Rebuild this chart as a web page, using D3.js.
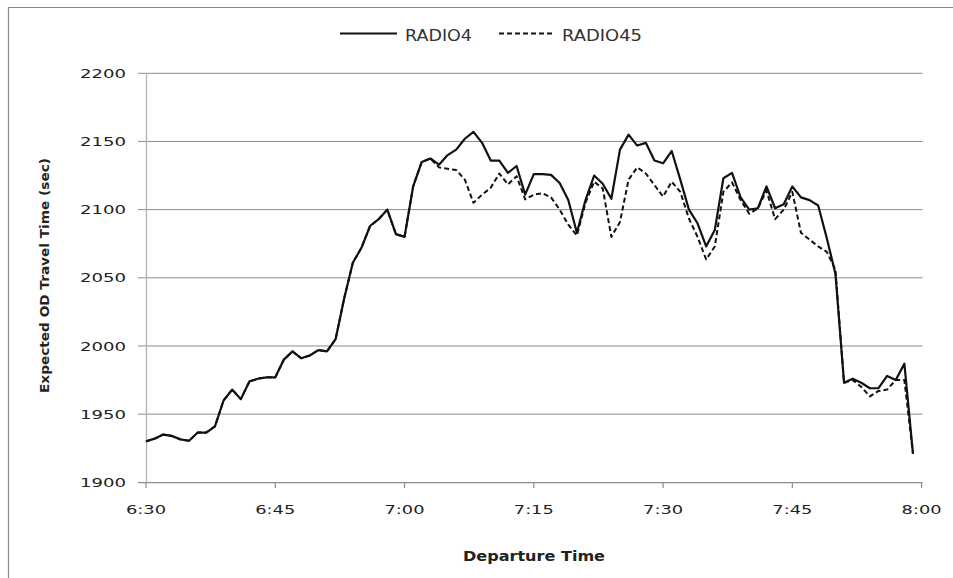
<!DOCTYPE html>
<html>
<head>
<meta charset="utf-8">
<script src="https://cdn.jsdelivr.net/npm/d3@7"></script>
<style>
  html, body { margin: 0; padding: 0; background: #fff; }
  svg { display: block; }
  text { font-family: "DejaVu Sans", Verdana, sans-serif; fill: #222; }
</style>
</head>
<body>
<svg id="chart" width="953" height="578"></svg>
<script>
// ---- data (one value per minute, 6:30 .. 7:59) ----
const startTime = "06:30";
const endTime = "08:00";
const radio4 = [
  1930, 1932, 1935, 1934, 1931.5, 1930.5, 1936.5, 1936.5, 1941, 1960,
  1968, 1961, 1974, 1976, 1977, 1977, 1990, 1996, 1991, 1993,
  1997, 1996, 2005, 2035, 2061, 2072, 2088, 2093, 2100, 2082,
  2080, 2117, 2135, 2137.5, 2133, 2140, 2144, 2152, 2157, 2149,
  2136, 2136, 2127, 2132, 2111, 2126, 2126, 2125.5, 2119.5, 2107,
  2083, 2107, 2125, 2119, 2108, 2144, 2155, 2147, 2149, 2136,
  2134, 2143, 2122, 2100, 2090, 2073, 2085, 2123, 2127, 2109,
  2100, 2101, 2117, 2101, 2104, 2117, 2109, 2107, 2103, 2079,
  2053, 1973, 1976, 1973, 1969, 1969, 1978, 1975, 1987, 1921
];
const radio45 = [
  1930, 1932, 1935, 1934, 1931.5, 1930.5, 1936.5, 1936.5, 1941, 1960,
  1968, 1961, 1974, 1976, 1977, 1977, 1990, 1996, 1991, 1993,
  1997, 1996, 2005, 2035, 2061, 2072, 2088, 2093, 2100, 2082,
  2080, 2117, 2135, 2137.5, 2131, 2130, 2129, 2122, 2105, 2111,
  2116, 2126.5, 2118.5, 2124.5, 2107.5, 2111, 2112, 2109, 2100, 2089,
  2081, 2105, 2120.5, 2115.5, 2080, 2091, 2122, 2131, 2126.5, 2118,
  2109.5, 2120.5, 2113, 2093.5, 2080, 2063.5, 2073, 2113, 2120, 2107,
  2097, 2101, 2114, 2093, 2100, 2113, 2083, 2078, 2073, 2069,
  2056, 1973, 1975, 1970, 1963, 1967, 1968, 1975, 1975, 1921
];
const seriesNames = ["RADIO4", "RADIO45"];
const yTicks = [1900, 1950, 2000, 2050, 2100, 2150, 2200];
const xTickLabels = ["6:30", "6:45", "7:00", "7:15", "7:30", "7:45", "8:00"];
const xTitle = "Departure Time";
const yTitle = "Expected OD Travel Time (sec)";

// ---- setup ----
const parse = d3.timeParse("%H:%M");
const t0 = parse(startTime), t1 = parse(endTime);
const times = d3.timeMinute.range(t0, d3.timeMinute.offset(t0, radio4.length));

const svg = d3.select("#chart");
const x = d3.scaleTime().domain([t0, t1]).range([146, 921.6]);
const y = d3.scaleLinear().domain([1900, 2200]).range([482.3, 73.3]);

function fit(sel, w) { sel.attr("textLength", w).attr("lengthAdjust", "spacingAndGlyphs"); }

// outer frame (partially visible)
svg.append("path").attr("d", "M8.5,578 V7.5 H953")
  .attr("fill", "none").attr("stroke", "#8a8a8a").attr("stroke-width", 1.2);

// gridlines
svg.append("g").selectAll("line").data(yTicks.filter(d => d !== 1900)).join("line")
  .attr("x1", 138).attr("x2", 922.5)
  .attr("y1", d => y(d)).attr("y2", d => y(d))
  .attr("stroke", "#8c8c8c").attr("stroke-width", 1);

// y tick labels
svg.append("g").selectAll("text").data(yTicks).join("text")
  .attr("x", 126).attr("y", d => y(d) + 4.6)
  .attr("text-anchor", "end").style("font-size", "12.5px")
  .text(d => d3.format("d")(d))
  .call(fit, 46);

// y axis line
svg.append("line").attr("x1", 146.5).attr("x2", 146.5).attr("y1", 73).attr("y2", 483)
  .attr("stroke", "#b4b4b4").attr("stroke-width", 1.3);

// x axis
const xTickVals = xTickLabels.map(s => parse(s.padStart(5, "0")));
svg.append("line").attr("x1", 138).attr("x2", 922.5).attr("y1", 482.7).attr("y2", 482.7)
  .attr("stroke", "#8c8c8c").attr("stroke-width", 1.2);
svg.append("g").selectAll("line").data(xTickVals).join("line")
  .attr("x1", d => x(d)).attr("x2", d => x(d)).attr("y1", 482.7).attr("y2", 488)
  .attr("stroke", "#8c8c8c").attr("stroke-width", 1.2);
svg.append("g").selectAll("text").data(xTickLabels).join("text")
  .attr("x", (d, i) => x(xTickVals[i])).attr("y", 514)
  .attr("text-anchor", "middle").style("font-size", "12.5px")
  .text(d => d)
  .call(fit, 40);

// axis titles
svg.append("text").attr("x", 534).attr("y", 561)
  .attr("text-anchor", "middle").style("font-size", "14px").style("font-weight", "bold")
  .text(xTitle).call(fit, 142);
svg.append("text").attr("transform", "translate(49,275.5) rotate(-90)")
  .attr("text-anchor", "middle").style("font-size", "12.5px").style("font-weight", "bold")
  .text(yTitle).call(fit, 235);

// lines
const line = d3.line().x((d, i) => x(times[i])).y(d => y(d));
svg.append("path").datum(radio45).attr("d", line)
  .attr("fill", "none").attr("stroke", "#111").attr("stroke-width", 2)
  .attr("stroke-dasharray", "5,3").attr("stroke-linejoin", "round");
svg.append("path").datum(radio4).attr("d", line)
  .attr("fill", "none").attr("stroke", "#111").attr("stroke-width", 2.2)
  .attr("stroke-linejoin", "round");

// legend
const lg = svg.append("g");
lg.append("line").attr("x1", 340).attr("x2", 397).attr("y1", 33.5).attr("y2", 33.5)
  .attr("stroke", "#111").attr("stroke-width", 2.2);
lg.append("text").attr("x", 405).attr("y", 41).style("font-size", "15px").style("fill", "#333")
  .text(seriesNames[0]).call(fit, 67);
lg.append("line").attr("x1", 499).attr("x2", 555).attr("y1", 33.5).attr("y2", 33.5)
  .attr("stroke", "#111").attr("stroke-width", 2).attr("stroke-dasharray", "5,3");
lg.append("text").attr("x", 562).attr("y", 41).style("font-size", "15px").style("fill", "#333")
  .text(seriesNames[1]).call(fit, 80);
</script>
</body>
</html>
